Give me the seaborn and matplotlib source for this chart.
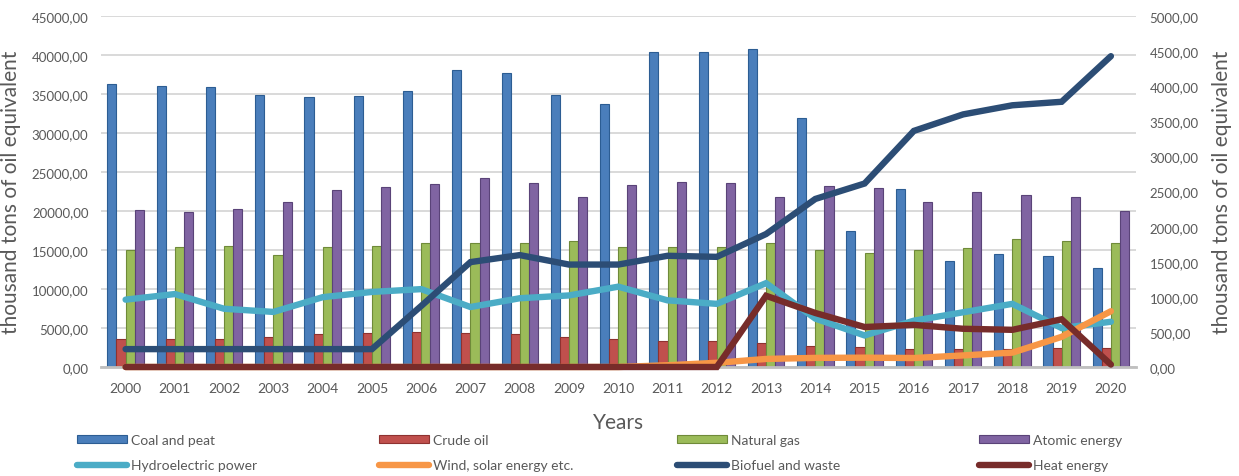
import numpy as np
import pandas as pd
import matplotlib
matplotlib.use("Agg")
import matplotlib.pyplot as plt
from matplotlib.patches import Patch
from matplotlib.lines import Line2D
from matplotlib.ticker import FuncFormatter, MultipleLocator
import seaborn as sns

# ---- data -------------------------------------------------------------
years = [str(y) for y in range(2000, 2021)]

# bars, left axis (thousand toe)
coal_and_peat = [36300, 36100, 35900, 34900, 34600, 34750, 35400, 38050, 37650,
                 34950, 33700, 40400, 40400, 40850, 31900, 17500, 22800, 13650,
                 14450, 14300, 12650]
crude_oil = [3550, 3550, 3550, 3800, 4200, 4350, 4450, 4350, 4200, 3850, 3600,
             3350, 3350, 3050, 2650, 2550, 2250, 2250, 2350, 2450, 2450]
natural_gas = [14950, 15350, 15550, 14400, 15350, 15550, 15850, 15850, 15950,
               16100, 15350, 15450, 15350, 15950, 14950, 14650, 15050, 15300,
               16400, 16200, 15850]
atomic_energy = [20150, 19900, 20250, 21200, 22700, 23100, 23450, 24250, 23650,
                 21800, 23350, 23700, 23650, 21800, 23250, 22950, 21200, 22450,
                 22050, 21800, 20000]

# lines, right axis (thousand toe)
hydroelectric = [960, 1040, 830, 785, 995, 1070, 1110, 855, 980, 1020, 1145,
                 950, 900, 1195, 690, 450, 660, 780, 900, 555, 645]
wind_solar = [0, 0, 0, 0, 0, 0, 0, 0, 0, 0, 0, 25, 60, 115, 130, 133, 128, 165,
              205, 430, 795]
biofuel_waste = [255, 255, 255, 255, 255, 255, 870, 1495, 1595, 1460, 1460,
                 1585, 1570, 1895, 2395, 2615, 3365, 3600, 3730, 3780, 4430]
heat_energy = [0, 0, 0, 0, 0, 0, 0, 0, 0, 0, 0, 0, 0, 1015, 770, 570, 600, 545,
               530, 680, 35]

bar_series = ["Coal and peat", "Crude oil", "Natural gas", "Atomic energy"]
line_series = ["Hydroelectric power", "Wind, solar energy etc.",
               "Biofuel and waste", "Heat energy"]

bar_colors = ["#4a7ebb", "#c0504d", "#9bbb59", "#8064a2"]
bar_edges = ["#2c5d93", "#8e3230", "#6f8a39", "#5a4378"]
line_colors = ["#4bacc6", "#f79646", "#2c4d75", "#772c2a"]

# ---- style --------------------------------------------------------------
sns.set_theme(style="white")
plt.rcParams["font.family"] = ["Lato", "DejaVu Sans"]
text_gray = "#595959"

bars_df = pd.DataFrame({
    "Year": np.repeat(years, 4),
    "Source": bar_series * len(years),
    "Value": np.ravel(np.column_stack([coal_and_peat, crude_oil,
                                       natural_gas, atomic_energy])),
})
x_idx = np.arange(len(years))
lines_df = pd.DataFrame({
    "x": np.tile(x_idx, 4),
    "Source": np.repeat(line_series, len(years)),
    "Value": hydroelectric + wind_solar + biofuel_waste + heat_energy,
})

fig = plt.figure(figsize=(12.39, 4.77), dpi=100)
ax = fig.add_axes([0.0815, 0.2285, 0.835, 0.7355])

sns.barplot(data=bars_df, x="Year", y="Value", hue="Source",
            hue_order=bar_series, palette=bar_colors, saturation=1,
            width=0.74, ax=ax, legend=False, zorder=2)
for cont, ec in zip(ax.containers, bar_edges):
    for patch in cont:
        patch.set_edgecolor(ec)
        patch.set_linewidth(0.8)

ax.set_ylim(0, 45000)
ax.set_xlim(-0.5, len(years) - 0.5)
ax.yaxis.set_major_locator(MultipleLocator(5000))
comma_fmt = FuncFormatter(lambda v, _: f"{v:.2f}".replace(".", ","))
ax.yaxis.set_major_formatter(comma_fmt)
ax.grid(axis="y", color="#d9d9d9", linewidth=1.4, zorder=0)
ax.set_axisbelow(True)
for side in ["left", "right", "top"]:
    ax.spines[side].set_visible(False)
ax.spines["bottom"].set_color("#bfbfbf")
ax.spines["bottom"].set_linewidth(2)
ax.tick_params(axis="both", length=0, colors=text_gray, labelsize=9.5)
ax.tick_params(axis="x", pad=11, labelsize=10)
ax.tick_params(axis="y", pad=9)
ax.set_xlabel("Years", fontsize=15, color=text_gray, labelpad=13)
ax.set_ylabel("thousand tons of oil equivalent", fontsize=15,
              color=text_gray, labelpad=8)

ax2 = ax.twinx()
sns.lineplot(data=lines_df, x="x", y="Value", hue="Source",
             hue_order=line_series, palette=line_colors, linewidth=4.6,
             ax=ax2, legend=False, sort=False)
for ln in ax2.lines:
    ln.set_solid_capstyle("round")
    ln.set_solid_joinstyle("miter")
    ln.set_clip_on(False)
ax2.set_ylim(0, 5000)
ax2.set_xlim(-0.5, len(years) - 0.5)
ax2.yaxis.set_major_locator(MultipleLocator(500))
ax2.yaxis.set_major_formatter(comma_fmt)
ax2.grid(False)
for side in ["left", "right", "top", "bottom"]:
    ax2.spines[side].set_visible(False)
ax2.tick_params(axis="y", length=0, colors=text_gray, labelsize=9.5, pad=10)
ax2.set_ylabel("thousand tons of oil equivalent", fontsize=15,
               color=text_gray, labelpad=10)
ax2.set_xlabel("")

# ---- legend: four columns of two entries ----------------------------------
columns = [
    [(bar_series[0], "bar", 0), (line_series[0], "line", 0)],
    [(bar_series[1], "bar", 1), (line_series[1], "line", 1)],
    [(bar_series[2], "bar", 2), (line_series[2], "line", 2)],
    [(bar_series[3], "bar", 3), (line_series[3], "line", 3)],
]
col_left_px = [70, 372, 670, 972]
for col, left in zip(columns, col_left_px):
    handles, labels = [], []
    for name, kind, i in col:
        if kind == "bar":
            handles.append(Patch(facecolor=bar_colors[i],
                                 edgecolor=bar_edges[i], linewidth=0.8))
        else:
            handles.append(Line2D([0], [0], color=line_colors[i],
                                  linewidth=4.6, solid_capstyle="round"))
        labels.append(name)
    fig.legend(handles, labels, loc="upper left",
               bbox_to_anchor=(left / 1239, 1 - 428 / 477),
               frameon=False, fontsize=10, handlelength=3.6,
               handleheight=0.5, handletextpad=0.3, labelspacing=0.95,
               borderpad=0, labelcolor=text_gray)

fig.savefig("out.png", dpi=100, facecolor="white")
